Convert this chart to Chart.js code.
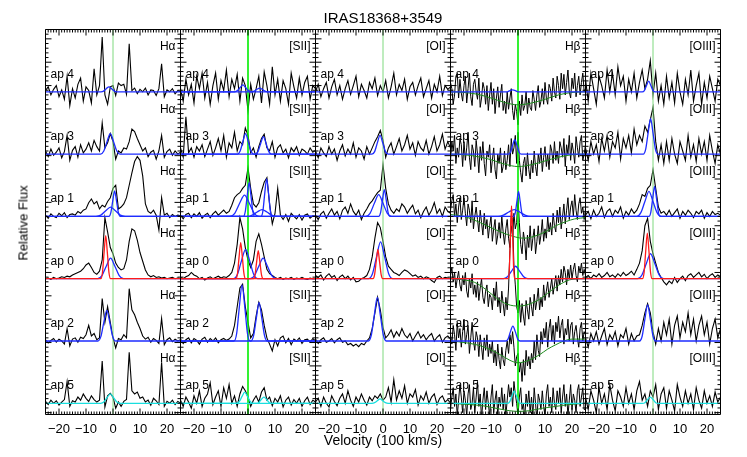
<!DOCTYPE html>
<html>
<head>
<meta charset="utf-8">
<script src="https://cdn.jsdelivr.net/npm/chart.js@4.4.1/dist/chart.umd.min.js"></script>
<style>
body { margin: 0; background: #fff; }
#wrap { position: relative; width: 747px; height: 457px; font-family: "Liberation Sans", Arial, sans-serif; color: #000; }
#c { position: absolute; left: 0; top: 0; }
.t { position: absolute; white-space: nowrap; }
</style>
</head>
<body>
<div id="wrap">
<canvas id="c" width="747" height="457"></canvas>
<div class="t" style="left:0;width:766px;top:9px;text-align:center;font-size:15px;">IRAS18368+3549</div>
<div class="t" style="left:23px;top:223px;font-size:13px;transform:translate(-50%,-50%) rotate(-90deg);">Relative Flux</div>
<div class="t" style="left:0;width:766px;top:432px;text-align:center;font-size:14px;">Velocity (100 km/s)</div>
</div>
<script>
// velocity grids, in units of 100 km/s
var velocity = [-25,-24,-23,-22,-21,-20,-19,-18,-17,-16,
  -15,-14,-13,-12,-11,-10,-9,-8,-7,-6,
  -5,-4,-3,-2,-1,0,1,2,3,4,
  5,6,7,8,9,10,11,12,13,14,
  15,16,17,18,19,20,21,22,23,24,
  25];
var velocityFine = [-25,-24.5,-24,-23.5,-23,-22.5,-22,-21.5,-21,-20.5,
  -20,-19.5,-19,-18.5,-18,-17.5,-17,-16.5,-16,-15.5,
  -15,-14.5,-14,-13.5,-13,-12.5,-12,-11.5,-11,-10.5,
  -10,-9.5,-9,-8.5,-8,-7.5,-7,-6.5,-6,-5.5,
  -5,-4.5,-4,-3.5,-3,-2.5,-2,-1.5,-1,-0.5,
  0,0.5,1,1.5,2,2.5,3,3.5,4,4.5,
  5,5.5,6,6.5,7,7.5,8,8.5,9,9.5,
  10,10.5,11,11.5,12,12.5,13,13.5,14,14.5,
  15,15.5,16,16.5,17,17.5,18,18.5,19,19.5,
  20,20.5,21,21.5,22,22.5,23,23.5,24,24.5,
  25];
var velocityTicks = [-20, -10, 0, 10, 20];
var lines = ['H\u03b1', '[SII]', '[OI]', 'H\u03b2', '[OIII]'];
var apertures = ['ap 4', 'ap 3', 'ap 1', 'ap 0', 'ap 2', 'ap 5'];

// ---- H alpha spectra ----
var haAp4 = [0.02,0.08,-0.05,0.04,0.1,-0.08,0.03,-0.12,0.25,-0.22,
  0.05,-0.1,0.12,0.22,-0.15,0.08,0.02,-0.18,0.37,-0.05,
  0.1,0.88,-0.05,-0.2,0.08,0.1,-0.06,0.14,0.1,0.12,
  -0.04,0.77,0.02,0.06,-0.03,0.04,0.0,0.06,-0.05,0.03,
  0.02,-0.06,0.05,0.45,-0.08,0.03,0.0,0.05,-0.03,0.02,
  0.0];
var haAp3 = [0.05,-0.04,0.08,-0.02,0.03,0.1,-0.06,0.04,0.3,-0.1,
  0.06,0.12,-0.05,0.15,0.02,0.08,0.18,0.05,0.22,0.12,
  0.05,0.5,0.1,0.18,0.33,0.2,-0.08,0.05,0.02,0.1,
  0.08,0.2,0.4,0.36,0.25,0.15,0.05,0.1,-0.04,0.03,
  0.06,-0.08,0.05,0.3,-0.05,0.04,0.08,-0.02,0.05,0.0,
  0.03];
var haAp1 = [0.02,-0.03,0.04,0.0,-0.02,0.05,0.01,0.06,-0.02,0.03,
  0.04,0.02,0.08,0.05,0.1,0.12,0.22,0.28,0.2,0.24,
  0.12,0.18,0.15,0.24,0.3,0.45,0.5,0.12,0.15,0.2,
  0.3,0.5,0.7,0.88,0.96,0.9,0.65,0.2,0.08,0.05,
  0.1,0.02,-0.22,0.3,0.02,0.05,-0.02,0.03,0.0,0.02,
  0.01];
var haAp0 = [0.0,0.01,-0.01,0.02,0.0,0.01,0.03,0.02,0.04,0.03,
  0.06,0.08,0.1,0.12,0.16,0.22,0.25,0.18,0.1,0.07,
  0.12,0.3,0.98,0.75,0.5,0.4,0.25,0.18,0.14,0.16,
  0.3,0.6,0.8,0.77,0.62,0.42,0.28,0.14,0.06,0.03,
  0.05,0.02,0.03,0.01,0.02,0.0,0.01,0.02,0.0,0.01,
  0.0];
var haAp2 = [0.02,-0.03,0.01,0.04,-0.02,0.03,0.0,-0.05,0.2,-0.08,
  0.03,0.05,-0.02,0.06,0.04,0.1,0.25,0.08,0.12,0.02,
  0.05,0.68,0.3,0.55,0.3,0.05,-0.11,0.04,0.02,0.1,
  0.05,0.84,0.5,0.42,0.3,0.2,0.08,0.03,0.06,-0.02,
  0.04,0.01,-0.04,0.36,-0.06,0.02,0.05,-0.01,0.03,0.0,
  0.02];
var haAp5 = [0.03,-0.02,0.05,0.0,0.04,-0.03,0.02,0.06,0.35,-0.05,
  0.04,0.02,0.1,0.05,0.15,0.08,0.03,0.12,0.06,0.02,
  0.05,0.68,-0.06,0.12,0.16,0.1,-0.08,0.02,-0.05,0.03,
  0.06,0.82,0.2,0.15,0.18,0.08,0.1,0.02,0.05,-0.03,
  0.08,0.04,-0.02,0.66,-0.05,0.03,0.0,0.05,-0.02,0.03,
  0.0];

// ---- [SII] spectra ----
var s2Ap4 = [0.05,-0.15,0.2,-0.05,0.12,-0.18,0.25,0.05,0.3,-0.1,
  0.15,-0.2,0.1,0.3,-0.12,0.18,0.02,0.35,-0.08,0.2,
  0.05,0.28,-0.15,0.22,0.1,-0.3,0.12,-0.12,0.05,0.25,
  -0.18,0.32,0.1,-0.2,0.4,-0.05,0.2,-0.15,0.18,0.05,
  -0.2,0.3,0.08,-0.1,0.22,-0.05,0.15,0.25,-0.12,0.1,
  0.05];
var s2Ap3 = [0.1,-0.05,0.6,0.02,0.1,-0.05,0.12,0.05,0.15,-0.04,
  0.08,0.2,-0.02,0.1,0.25,0.05,0.3,-0.05,0.18,0.1,
  0.35,0.05,0.2,0.15,0.42,0.3,0.02,0.1,-0.05,0.12,
  0.25,0.32,0.1,0.05,0.2,-0.05,0.1,0.15,0.02,0.08,
  -0.06,0.1,0.04,0.12,-0.02,0.08,0.05,0.0,0.1,0.03,
  0.06];
var s2Ap1 = [0.02,-0.04,0.03,0.05,-0.02,0.04,0.0,0.06,-0.03,0.02,
  0.05,-0.02,0.04,0.08,0.02,0.06,0.1,0.05,0.08,0.18,
  0.3,0.35,0.38,0.45,0.5,0.78,0.45,0.2,0.15,0.22,
  0.4,0.55,0.62,0.2,-0.12,0.05,0.45,0.02,-0.05,0.03,
  -0.08,0.05,0.0,-0.04,0.03,-0.06,0.02,0.04,-0.03,0.01,
  0.0];
var s2Ap0 = [0.02,0.0,0.03,0.05,0.1,0.06,0.04,0.0,0.02,-0.02,
  0.01,0.03,0.0,0.02,0.04,0.01,0.03,0.02,0.05,0.1,
  0.25,0.55,0.98,0.8,0.5,0.3,0.18,0.3,0.6,0.72,
  0.55,0.35,0.15,0.08,0.05,0.02,0.0,0.02,-0.01,0.01,
  0.0,0.02,-0.01,0.01,0.0,0.02,0.0,-0.01,0.01,0.0,
  0.0];
var s2Ap2 = [0.03,-0.04,0.02,0.05,-0.03,0.04,0.01,-0.05,0.03,0.06,
  -0.02,0.04,0.0,0.05,-0.03,0.02,0.04,0.01,0.03,0.08,
  0.25,0.55,0.85,0.91,0.55,0.3,0.05,0.12,0.4,0.62,
  0.5,0.25,0.05,-0.05,-0.16,0.02,-0.08,0.05,0.08,-0.03,
  0.04,-0.06,0.03,0.0,0.05,-0.04,0.02,0.03,-0.02,0.04,
  0.0];
var s2Ap5 = [0.05,-0.05,0.1,0.02,-0.08,0.12,0.0,0.2,-0.05,0.08,
  0.15,0.33,-0.02,0.1,0.2,-0.05,0.25,0.08,0.3,0.0,
  0.12,-0.05,0.15,0.27,0.2,0.1,-0.05,0.05,0.12,0.02,
  0.18,0.25,0.05,0.1,-0.04,0.08,0.02,0.12,-0.06,0.05,
  0.1,-0.03,0.06,0.0,0.08,-0.05,0.04,0.1,-0.02,0.05,
  0.02];

// ---- [OI] spectra ----
var o1Ap4 = [0.0,0.12,-0.08,0.05,0.15,-0.1,0.08,0.2,-0.05,0.1,
  -0.12,0.05,0.18,-0.04,0.1,0.25,-0.08,0.12,0.02,-0.1,
  0.15,0.05,0.22,-0.06,0.1,0.0,0.18,-0.1,0.08,0.3,
  -0.05,0.12,0.02,0.2,-0.12,0.08,0.15,-0.05,0.1,0.22,
  -0.08,0.05,0.18,-0.1,0.12,0.0,0.25,-0.06,0.1,0.04,
  0.08];
var o1Ap3 = [0.05,-0.06,0.1,0.02,-0.04,0.12,0.0,0.08,-0.1,0.05,
  0.15,-0.03,0.08,0.0,0.18,-0.05,0.1,0.05,-0.08,0.12,
  0.0,0.1,0.2,0.28,0.38,0.22,-0.05,0.1,0.18,0.0,
  0.12,0.25,0.05,0.15,0.3,0.08,0.18,-0.02,0.2,0.1,
  0.05,0.22,0.0,0.12,0.28,0.05,0.15,0.32,0.08,0.2,
  0.1];
var o1Ap1 = [0.02,-0.05,0.04,0.08,-0.03,0.05,0.12,0.02,0.08,-0.04,
  0.1,0.15,0.05,0.2,0.08,0.02,0.1,-0.05,0.05,0.12,
  0.2,0.25,0.32,0.38,0.42,0.83,0.45,0.2,0.1,0.05,
  0.12,0.08,0.2,0.15,0.05,0.12,0.18,0.04,0.1,-0.02,
  0.08,0.15,0.02,0.1,0.22,0.05,0.12,0.0,0.15,0.08,
  0.05];
var o1Ap0 = [0.05,0.02,0.06,-0.02,0.04,0.08,0.02,0.05,-0.03,0.03,
  0.06,0.0,0.04,-0.02,0.02,-0.05,-0.04,0.0,0.02,0.05,
  0.15,0.35,0.65,0.9,0.82,0.6,0.35,0.2,0.15,0.1,
  0.08,0.05,0.1,0.14,0.12,0.08,0.04,0.06,0.02,0.04,
  0.0,0.03,0.01,-0.03,-0.06,0.02,0.04,0.0,0.02,0.01,
  0.0];
var o1Ap2 = [0.03,-0.04,0.02,0.05,-0.02,0.0,0.04,-0.03,0.02,0.05,
  -0.02,0.0,-0.06,-0.04,-0.08,-0.05,-0.09,-0.04,-0.06,0.0,
  0.05,0.2,0.45,0.7,0.5,0.22,0.05,0.1,0.18,0.06,
  0.15,0.08,0.2,0.1,0.05,0.12,0.0,0.08,0.15,0.05,
  0.1,0.02,0.08,0.12,0.0,0.06,0.1,-0.02,0.05,0.08,
  0.03];
var o1Ap5 = [0.02,0.08,-0.05,0.1,0.0,-0.06,0.12,0.03,-0.04,0.08,
  0.15,0.0,0.2,0.05,-0.05,0.1,0.02,0.15,0.05,-0.03,
  0.1,0.04,0.12,0.08,0.15,0.05,0.1,0.25,0.02,0.38,
  0.05,0.2,0.08,0.28,0.0,0.15,0.1,0.22,-0.03,0.12,
  0.05,0.18,0.0,0.1,0.15,-0.02,0.08,0.12,0.02,0.06,
  0.0];

// ---- H beta spectra (finer sampling) ----
var hbAp4 = [0.15,0.05,-0.2,-0.05,0.25,0.3,-0.1,0.2,-0.02,-0.15,
  0.1,0.25,-0.18,0.05,0.3,-0.08,-0.22,0.12,0.2,0.0,
  -0.12,0.22,-0.25,-0.1,0.15,0.05,-0.2,0.1,-0.3,-0.05,
  0.15,-0.2,0.05,-0.35,-0.1,0.08,-0.25,-0.05,0.12,-0.3,
  -0.15,-0.35,0.0,-0.28,-0.1,0.05,-0.3,-0.45,-0.2,-0.32,
  -0.53,-0.15,-0.38,-0.05,-0.3,-0.22,0.0,-0.35,-0.1,-0.25,
  -0.3,0.02,-0.12,-0.3,-0.05,0.1,-0.25,-0.15,0.05,-0.2,
  0.15,-0.1,-0.2,0.12,0.05,-0.15,0.22,0.0,-0.1,0.25,
  0.1,-0.12,0.3,0.05,0.28,-0.05,0.15,0.35,0.0,-0.1,
  0.22,0.05,0.3,-0.08,0.1,0.25,-0.05,0.15,0.3,0.0,
  0.05];
var hbAp3 = [-0.1,0.2,0.05,0.3,-0.15,0.1,-0.05,0.25,0.15,-0.2,
  0.2,-0.1,0.1,0.35,-0.05,-0.25,0.15,0.05,-0.2,0.22,
  0.0,-0.3,0.12,-0.1,0.2,-0.15,-0.35,0.05,-0.05,0.15,
  -0.3,-0.1,0.1,-0.25,-0.4,0.0,-0.15,0.1,-0.3,-0.2,
  0.05,-0.25,-0.1,0.15,-0.2,0.25,0.0,0.1,0.3,-0.15,
  0.35,-0.1,-0.3,-0.45,-0.15,-0.05,-0.35,0.02,-0.25,-0.4,
  -0.1,-0.3,0.05,-0.2,-0.35,0.0,-0.15,0.1,-0.28,-0.05,
  0.12,-0.2,0.0,-0.25,0.15,0.05,-0.15,0.2,-0.1,0.05,
  -0.15,0.2,0.1,-0.05,0.25,-0.2,0.15,0.0,0.3,-0.1,
  0.18,0.05,-0.15,0.28,0.1,-0.05,0.2,0.3,-0.1,0.0,
  0.15];
var hbAp1 = [0.1,0.25,0.35,0.0,0.2,-0.1,0.15,0.3,-0.05,0.1,
  0.3,0.05,-0.15,0.2,0.1,-0.1,0.25,-0.2,0.0,0.15,
  -0.05,-0.25,0.1,-0.1,-0.3,0.05,-0.2,-0.05,-0.35,-0.15,
  0.0,-0.4,-0.2,-0.05,-0.45,-0.3,-0.1,-0.35,0.0,-0.25,
  -0.45,-0.2,-0.05,-0.35,-0.5,-0.15,-0.3,0.05,-0.2,-0.1,
  0.3,-0.1,-0.45,-0.6,-0.25,-0.4,-0.7,-0.3,-0.5,-0.15,
  -0.55,-0.35,-0.2,-0.6,-0.4,-0.15,-0.45,-0.3,-0.05,-0.4,
  -0.2,-0.35,0.0,-0.25,-0.1,-0.3,0.05,-0.15,-0.25,0.1,
  -0.1,0.15,-0.2,0.0,0.2,-0.12,0.1,0.3,-0.05,0.15,
  0.25,0.0,0.35,0.1,-0.05,0.2,0.3,0.05,0.15,-0.05,
  0.12];
var hbAp0 = [0.05,0.18,-0.05,0.1,-0.15,0.0,0.12,-0.1,-0.2,0.05,
  -0.1,0.1,-0.2,-0.3,0.0,-0.15,0.08,-0.25,-0.1,-0.3,
  -0.05,-0.35,-0.15,0.0,-0.3,-0.4,-0.2,-0.1,-0.45,-0.25,
  -0.3,-0.5,-0.15,-0.35,-0.05,-0.45,-0.3,-0.55,-0.2,-0.4,
  -0.6,-0.3,-0.5,-0.15,0.45,1.0,0.95,0.2,-0.1,-0.45,
  -0.55,-0.35,-0.7,-0.4,-0.6,-0.75,-0.35,-0.5,-0.65,-0.3,
  -0.45,-0.6,-0.25,-0.5,-0.35,-0.15,-0.5,-0.3,-0.45,-0.1,
  -0.35,-0.2,-0.05,-0.3,-0.15,0.0,-0.25,-0.1,0.05,-0.2,
  0.05,-0.1,0.15,-0.05,0.2,0.1,-0.1,0.15,0.0,0.22,
  0.0,0.15,0.25,0.05,-0.05,0.2,0.1,0.25,0.05,0.15,
  0.05];
var hbAp2 = [0.1,-0.05,0.25,0.1,-0.15,0.3,0.05,0.2,-0.1,0.15,
  0.35,-0.05,0.1,0.25,-0.2,0.05,0.3,0.0,-0.15,0.15,
  0.05,-0.25,0.1,-0.1,-0.3,0.05,-0.15,0.1,-0.25,-0.05,
  -0.2,0.0,-0.35,-0.15,-0.4,-0.05,-0.3,-0.45,-0.1,-0.3,
  -0.4,-0.15,0.0,-0.2,0.1,-0.05,0.15,-0.1,-0.4,-0.25,
  -0.2,-0.5,-0.35,-0.65,-0.3,-0.55,-0.15,-0.4,-0.25,-0.45,
  -0.2,-0.35,0.0,-0.3,0.1,-0.15,-0.25,0.15,-0.05,0.2,
  0.05,0.3,-0.1,0.2,0.35,0.0,0.25,-0.05,0.3,0.15,
  0.4,0.05,0.25,0.35,-0.05,0.2,0.1,0.35,0.0,0.25,
  0.3,-0.05,0.15,0.25,0.05,-0.1,0.2,0.3,0.0,0.15,
  0.1];
var hbAp5 = [-0.1,0.1,0.25,-0.05,0.15,-0.2,0.05,0.3,0.1,-0.15,
  0.2,0.05,-0.2,0.15,0.3,-0.1,0.0,0.25,-0.15,0.1,
  0.35,-0.05,0.15,-0.25,0.05,0.25,-0.1,0.2,0.0,-0.2,
  0.1,0.3,-0.15,0.05,0.2,-0.2,0.1,-0.05,0.25,-0.1,
  0.15,-0.2,0.05,0.3,0.1,0.25,-0.05,0.35,0.15,0.0,
  -0.2,0.1,0.25,-0.1,0.0,-0.25,0.15,-0.05,0.2,-0.15,
  0.1,-0.2,0.25,0.0,-0.3,0.15,0.05,-0.1,0.2,-0.05,
  -0.2,0.15,0.3,-0.05,0.1,-0.15,0.25,0.0,-0.1,0.2,
  0.0,0.25,-0.15,0.1,0.3,-0.05,0.15,-0.2,0.05,0.3,
  -0.1,0.15,0.05,-0.15,0.2,0.3,-0.05,0.1,0.25,-0.1,
  -0.1];

// ---- [OIII] spectra ----
var o3Ap4 = [0.2,-0.15,0.3,0.05,-0.2,0.25,0.1,-0.1,0.35,0.0,
  0.3,-0.05,0.4,0.1,0.25,-0.15,0.2,0.0,0.3,-0.1,
  0.15,0.35,0.05,0.2,0.5,-0.05,0.3,-0.15,0.1,-0.2,
  0.25,-0.1,0.15,-0.18,0.3,0.0,-0.2,0.2,-0.05,0.35,
  -0.15,0.1,0.3,-0.2,0.15,-0.1,0.25,0.05,-0.15,0.2,
  0.1];
var o3Ap3 = [0.1,-0.1,0.2,0.0,0.15,-0.12,0.25,0.05,0.3,-0.05,
  0.2,0.1,0.35,-0.08,0.25,0.1,0.3,0.02,0.4,0.15,
  0.3,0.2,0.45,0.35,0.55,0.75,0.2,-0.1,0.15,-0.15,
  0.2,-0.1,0.25,0.0,-0.15,0.2,0.05,-0.1,0.3,-0.05,
  0.15,-0.12,0.25,0.0,0.2,-0.1,0.3,0.05,-0.15,0.15,
  0.0];
var o3Ap1 = [0.02,0.08,-0.04,0.1,0.0,0.05,0.15,-0.02,0.08,0.12,
  0.0,0.1,0.05,0.15,-0.03,0.08,0.02,0.12,0.05,0.1,
  0.2,0.35,0.32,0.45,0.5,0.75,0.45,0.15,0.05,0.08,
  0.02,0.1,0.0,0.06,0.12,-0.03,0.08,0.02,0.1,0.05,
  -0.02,0.08,0.04,0.1,-0.03,0.06,0.0,0.08,0.03,0.05,
  0.02];
var o3Ap0 = [0.02,0.05,0.0,0.06,0.03,0.08,0.02,0.05,0.1,0.03,
  0.06,0.02,0.08,0.04,0.1,0.05,0.08,0.12,0.06,0.15,
  0.25,0.45,0.85,0.97,0.6,0.4,0.25,0.1,0.02,-0.05,
  -0.1,-0.04,-0.08,0.02,-0.06,0.0,0.04,-0.03,0.05,0.08,
  0.02,0.06,0.1,0.03,0.07,0.0,0.05,0.08,0.02,0.06,
  0.03];
var o3Ap2 = [0.05,-0.1,0.12,0.0,0.15,-0.05,0.08,0.2,-0.06,0.1,
  0.02,0.15,-0.08,0.1,0.05,0.2,-0.05,0.12,0.0,0.08,
  0.1,0.25,0.45,0.6,0.45,0.15,-0.05,0.2,0.0,0.3,
  0.1,0.35,-0.05,0.25,0.4,0.05,0.3,0.15,0.45,0.1,
  0.35,0.0,0.25,0.4,0.1,0.3,-0.05,0.2,0.35,0.05,
  0.2];
var o3Ap5 = [0.1,-0.1,0.2,0.05,-0.15,0.25,0.0,0.15,-0.1,0.3,
  0.05,-0.12,0.2,0.1,-0.05,0.25,0.0,0.15,-0.1,0.2,
  0.35,0.05,0.15,-0.05,0.2,0.1,0.3,-0.1,0.15,0.25,
  -0.08,0.2,0.05,-0.12,0.3,0.1,-0.05,0.2,0.0,0.15,
  -0.1,0.25,0.05,-0.08,0.2,0.0,0.12,-0.05,0.18,0.02,
  0.1];

// ---- fitted components, [velocity, flux] ----
var haFit4 = [[-25,0],[-4.5,0],[-3.5,0.01],[-2.5,0.05],[-1.5,0.08],[-0.5,0.05],[0.5,0.01],[1.5,0],[25,0]];
var haFit3 = [[-25,0],[-4.6,0],[-3.4,0.05],[-2.2,0.2],[-1,0.33],[0.2,0.2],[1.4,0.05],[2.6,0],[25,0]];
var haFit1Broad = [[-25,0],[-6.3,0],[-4.5,0.02],[-2.7,0.09],[-0.9,0.15],[0.9,0.09],[2.7,0.02],[4.5,0],[25,0]];
var haFit1Narrow = [[-25,0],[-1.5,0],[-0.8,0.06],[-0.1,0.25],[0.6,0.41],[1.3,0.25],[2,0.06],[2.7,0],[25,0]];
var haFit0Narrow = [[-25,0],[-4.5,0],[-3.9,0.1],[-3.3,0.42],[-2.7,0.69],[-2.1,0.42],[-1.5,0.1],[-0.9,0],[25,0]];
var haFit0Broad = [[-25,0],[-5.7,0],[-4.1,0.05],[-2.5,0.2],[-0.9,0.33],[0.7,0.2],[2.3,0.05],[3.9,0],[25,0]];
var haFit2 = [[-25,0],[-5.6,0],[-4.5,0.07],[-3.4,0.3],[-2.3,0.49],[-1.2,0.3],[-0.1,0.07],[1,0],[25,0]];
var haFit5 = [[-25,0],[-4.6,0],[-3.4,0.02],[-2.2,0.09],[-1,0.15],[0.2,0.09],[1.4,0.02],[2.6,0],[25,0]];

var s2Fit4a = [[-25,0],[-4.9,0],[-3.9,0.02],[-2.9,0.07],[-1.9,0.11],[-0.9,0.07],[0.1,0.02],[1.1,0],[25,0]];
var s2Fit4b = [[-25,0],[1.3,0],[2.3,0.01],[3.3,0.04],[4.3,0.06],[5.3,0.04],[6.3,0.01],[7.3,0],[25,0]];
var s2Fit3a = [[-25,0],[-3.9,0],[-2.9,0.05],[-1.9,0.2],[-0.9,0.33],[0.1,0.2],[1.1,0.05],[2.1,0],[25,0]];
var s2Fit3b = [[-25,0],[2.7,0],[3.7,0.04],[4.7,0.17],[5.7,0.28],[6.7,0.17],[7.7,0.04],[8.7,0],[25,0]];
var s2Fit1Broad1 = [[-25,0],[-6.7,0],[-4.9,0.05],[-3.1,0.21],[-1.3,0.34],[0.5,0.21],[2.3,0.05],[4.1,0],[25,0]];
var s2Fit1Narrow1 = [[-25,0],[-1.7,0],[-1,0.08],[-0.3,0.33],[0.4,0.54],[1.1,0.33],[1.8,0.08],[2.5,0],[25,0]];
var s2Fit1Broad2 = [[-25,0],[-0.2,0],[1.6,0.02],[3.4,0.07],[5.2,0.11],[7,0.07],[8.8,0.02],[10.6,0],[25,0]];
var s2Fit1Narrow2 = [[-25,0],[4.8,0],[5.5,0.08],[6.2,0.37],[6.9,0.6],[7.6,0.37],[8.3,0.08],[9,0],[25,0]];
var s2Fit0Narrow1 = [[-25,0],[-4.5,0],[-3.9,0.08],[-3.3,0.35],[-2.7,0.58],[-2.1,0.35],[-1.5,0.08],[-0.9,0],[25,0]];
var s2Fit0Broad1 = [[-25,0],[-5.4,0],[-3.9,0.07],[-2.4,0.29],[-0.9,0.47],[0.6,0.29],[2.1,0.07],[3.6,0],[25,0]];
var s2Fit0Narrow2 = [[-25,0],[2,0],[2.6,0.06],[3.2,0.27],[3.8,0.45],[4.4,0.27],[5,0.06],[5.6,0],[25,0]];
var s2Fit0Broad2 = [[-25,0],[0.8,0],[2.4,0.05],[4,0.2],[5.6,0.33],[7.2,0.2],[8.8,0.05],[10.4,0],[25,0]];
var s2Fit2a = [[-25,0],[-5.2,0],[-4.2,0.12],[-3.2,0.55],[-2.2,0.9],[-1.2,0.55],[-0.2,0.12],[0.8,0],[25,0]];
var s2Fit2b = [[-25,0],[1.1,0],[2.1,0.09],[3.1,0.37],[4.1,0.62],[5.1,0.37],[6.1,0.09],[7.1,0],[25,0]];
var s2Fit5a = [[-25,0],[-4.2,0],[-3.2,0.03],[-2.2,0.11],[-1.2,0.18],[-0.2,0.11],[0.8,0.03],[1.8,0],[25,0]];
var s2Fit5b = [[-25,0],[2.9,0],[3.9,0.01],[4.9,0.06],[5.9,0.1],[6.9,0.06],[7.9,0.01],[8.9,0],[25,0]];

var o1Fit4 = [[-25,0],[25,0]];
var o1Fit3 = [[-25,0],[-4.1,0],[-3.1,0.04],[-2.1,0.18],[-1.1,0.3],[-0.1,0.18],[0.9,0.04],[1.9,0],[25,0]];
var o1Fit1Broad = [[-25,0],[-6.4,0],[-4.8,0.05],[-3.2,0.21],[-1.6,0.35],[0,0.21],[1.6,0.05],[3.2,0],[25,0]];
var o1Fit1Narrow = [[-25,0],[-1.6,0],[-0.9,0.06],[-0.2,0.26],[0.5,0.43],[1.2,0.26],[1.9,0.06],[2.6,0],[25,0]];
var o1Fit0Narrow = [[-25,0],[-3.7,0],[-3.1,0.07],[-2.5,0.28],[-1.9,0.47],[-1.3,0.28],[-0.7,0.07],[-0.1,0],[25,0]];
var o1Fit0Broad = [[-25,0],[-5.4,0],[-3.9,0.08],[-2.4,0.35],[-0.9,0.59],[0.6,0.35],[2.1,0.08],[3.6,0],[25,0]];
var o1Fit2 = [[-25,0],[-5.4,0],[-4.3,0.1],[-3.2,0.42],[-2.1,0.7],[-1,0.42],[0.1,0.1],[1.2,0],[25,0]];
var o1Fit5 = [[-25,0],[-4.1,0],[-3.1,0.01],[-2.1,0.04],[-1.1,0.07],[-0.1,0.04],[0.9,0.01],[1.9,0],[25,0]];

var hbFit4 = [[-25,0],[-5,0],[-4,0],[-3,0.02],[-2,0.03],[-1,0.02],[0,0],[1,0],[25,0]];
var hbAbs4 = [[-25,0],[-20,-0.01],[-15,-0.04],[-10,-0.1],[-5,-0.17],[0,-0.21],[5,-0.18],[10,-0.12],[15,-0.05],[20,-0.01],[25,0]];
var hbFit3 = [[-25,0],[-3.6,0],[-2.8,0.03],[-2,0.14],[-1.2,0.23],[-0.4,0.14],[0.4,0.03],[1.2,0],[25,0]];
var hbAbs3 = [[-25,0],[-20,-0.01],[-15,-0.04],[-10,-0.09],[-5,-0.16],[0,-0.2],[5,-0.17],[10,-0.11],[15,-0.05],[20,-0.01],[25,0]];
var hbFit1Narrow = [[-25,0],[-1.6,0],[-1,0.06],[-0.4,0.24],[0.2,0.4],[0.8,0.24],[1.4,0.06],[2,0],[25,0]];
var hbFit1Broad = [[-25,0],[-7.4,0],[-5.4,0.02],[-3.4,0.07],[-1.4,0.11],[0.6,0.07],[2.6,0.02],[4.6,0],[25,0]];
var hbAbs1 = [[-25,0.03],[-20,0],[-14,-0.1],[-9,-0.2],[-4,-0.29],[2,-0.35],[6,-0.32],[10.5,-0.24],[14,-0.15],[18,-0.08],[21,-0.04],[25,-0.02]];
var hbFit0Narrow = [[-25,0],[-3.6,0],[-3.2,0.16],[-2.8,0.71],[-2.4,1.17],[-2,0.71],[-1.6,0.16],[-1.2,0],[25,0]];
var hbFit0Broad = [[-25,0],[-5.4,0],[-3.9,0.03],[-2.4,0.12],[-0.9,0.2],[0.6,0.12],[2.1,0.03],[3.6,0],[25,0]];
var hbAbs0 = [[-25,0],[-20,-0.02],[-16,-0.06],[-12,-0.17],[-8,-0.31],[-4,-0.41],[0.5,-0.44],[4,-0.41],[8,-0.33],[12,-0.2],[16,-0.08],[20,-0.01],[25,0]];
var hbFit2 = [[-25,0],[-4.6,0],[-3.7,0.03],[-2.8,0.15],[-1.9,0.24],[-1,0.15],[-0.1,0.03],[0.8,0],[25,0]];
var hbAbs2 = [[-25,0],[-19,-0.03],[-13,-0.09],[-7,-0.21],[-3,-0.31],[0,-0.35],[4,-0.31],[8,-0.22],[11,-0.13],[14,-0.06],[17,0],[20,0.03],[25,0.03]];
var hbFit5 = [[-25,0],[-3.8,0],[-3,0.03],[-2.2,0.12],[-1.4,0.2],[-0.6,0.12],[0.2,0.03],[1,0],[25,0]];
var hbAbs5 = [[-25,0],[-18,-0.02],[-13,-0.04],[-7,-0.09],[-3,-0.12],[0,-0.13],[4,-0.12],[9,-0.08],[14,-0.05],[19,-0.02],[25,0]];

var o3Fit4 = [[-25,0],[-4,0],[-3.2,0.02],[-2.4,0.1],[-1.6,0.17],[-0.8,0.1],[0,0.02],[0.8,0],[25,0]];
var o3Fit3 = [[-25,0],[-3.6,0],[-2.7,0.08],[-1.8,0.34],[-0.9,0.57],[0,0.34],[0.9,0.08],[1.8,0],[25,0]];
var o3Fit1Broad = [[-25,0],[-6,0],[-4.5,0.06],[-3,0.24],[-1.5,0.4],[0,0.24],[1.5,0.06],[3,0],[25,0]];
var o3Fit1Narrow = [[-25,0],[-1.5,0],[-0.8,0.07],[-0.1,0.29],[0.6,0.48],[1.3,0.29],[2,0.07],[2.7,0],[25,0]];
var o3Fit0Narrow = [[-25,0],[-3.9,0],[-3.3,0.1],[-2.7,0.44],[-2.1,0.73],[-1.5,0.44],[-0.9,0.1],[-0.3,0],[25,0]];
var o3Fit0Broad = [[-25,0],[-5.7,0],[-4.1,0.06],[-2.5,0.24],[-0.9,0.4],[0.7,0.24],[2.3,0.06],[3.9,0],[25,0]];
var o3Fit2 = [[-25,0],[-5,0],[-4,0.08],[-3,0.35],[-2,0.58],[-1,0.35],[0,0.08],[1,0],[25,0]];
var o3Fit5 = [[-25,0],[-4,0],[-3,0.01],[-2,0.06],[-1,0.1],[0,0.06],[1,0.01],[2,0],[25,0]];

// panels: spectra per line, rows in aperture order
var spectra = [
  [haAp4, haAp3, haAp1, haAp0, haAp2, haAp5],
  [s2Ap4, s2Ap3, s2Ap1, s2Ap0, s2Ap2, s2Ap5],
  [o1Ap4, o1Ap3, o1Ap1, o1Ap0, o1Ap2, o1Ap5],
  [hbAp4, hbAp3, hbAp1, hbAp0, hbAp2, hbAp5],
  [o3Ap4, o3Ap3, o3Ap1, o3Ap0, o3Ap2, o3Ap5]
];
// [column, row, component kind, points]
var fits = [
  [0,0,'comp',haFit4],[0,1,'comp',haFit3],[0,2,'comp',haFit1Broad],[0,2,'comp',haFit1Narrow],
  [0,3,'comp',haFit0Broad],[0,3,'narrow',haFit0Narrow],[0,4,'comp',haFit2],[0,5,'comp',haFit5],
  [1,0,'comp',s2Fit4a],[1,0,'comp',s2Fit4b],[1,1,'comp',s2Fit3a],[1,1,'comp',s2Fit3b],
  [1,2,'comp',s2Fit1Broad1],[1,2,'comp',s2Fit1Narrow1],[1,2,'comp',s2Fit1Broad2],[1,2,'comp',s2Fit1Narrow2],
  [1,3,'comp',s2Fit0Broad1],[1,3,'comp',s2Fit0Broad2],[1,3,'narrow',s2Fit0Narrow1],[1,3,'narrow',s2Fit0Narrow2],
  [1,4,'comp',s2Fit2a],[1,4,'comp',s2Fit2b],[1,5,'comp',s2Fit5a],[1,5,'comp',s2Fit5b],
  [2,0,'comp',o1Fit4],[2,1,'comp',o1Fit3],[2,2,'comp',o1Fit1Broad],[2,2,'comp',o1Fit1Narrow],
  [2,3,'comp',o1Fit0Broad],[2,3,'narrow',o1Fit0Narrow],[2,4,'comp',o1Fit2],[2,5,'comp',o1Fit5],
  [3,0,'abs',hbAbs4],[3,0,'comp',hbFit4],[3,1,'abs',hbAbs3],[3,1,'comp',hbFit3],
  [3,2,'abs',hbAbs1],[3,2,'comp',hbFit1Broad],[3,2,'comp',hbFit1Narrow],
  [3,3,'abs',hbAbs0],[3,3,'comp',hbFit0Broad],[3,3,'narrow',hbFit0Narrow],
  [3,4,'abs',hbAbs2],[3,4,'comp',hbFit2],[3,5,'abs',hbAbs5],[3,5,'comp',hbFit5],
  [4,0,'comp',o3Fit4],[4,1,'comp',o3Fit3],[4,2,'comp',o3Fit1Broad],[4,2,'comp',o3Fit1Narrow],
  [4,3,'comp',o3Fit0Broad],[4,3,'narrow',o3Fit0Narrow],[4,4,'comp',o3Fit2],[4,5,'comp',o3Fit5]
];

var rowOffset = [5, 4, 3, 2, 1, 0];   // vertical shift of each aperture
var colWidth = 50;                     // each panel spans -25..25
var yMin = -0.18, yMax = 6.0;
var font = '"Liberation Sans", Arial, sans-serif';

var colX = function(c, v) { return v + 25 + colWidth * c; };

var compColor = function(row, kind) {
  if (kind == 'abs') return '#1d8a1d';
  if (row == 5) return '#19dede';
  if (kind == 'narrow') return '#ff1a1a';
  return '#1e2cff';
};

var datasets = [];
for (var c = 0; c < 5; c++) {
  for (var r = 0; r < 6; r++) {
    var arr = spectra[c][r];
    var grid = arr.length == velocityFine.length ? velocityFine : velocity;
    datasets.push({
      data: grid.map(function(v, i) { return { x: colX(c, v), y: arr[i] + rowOffset[r] }; }),
      borderColor: '#000', borderWidth: grid === velocityFine ? 1 : 1.1,
      pointRadius: 0, tension: 0, order: 4
    });
  }
  // zero velocity marker
  datasets.push({
    data: [{ x: colX(c, 0), y: yMin }, { x: colX(c, 0), y: yMax }],
    borderColor: (c == 1 || c == 3) ? '#00ee00' : '#7fd97f',
    borderWidth: (c == 1 || c == 3) ? 1.6 : 1, pointRadius: 0, order: 3
  });
}
fits.forEach(function(f) {
  var c = f[0], r = f[1], kind = f[2];
  datasets.push({
    data: f[3].map(function(p) { return { x: colX(c, p[0]), y: p[1] + rowOffset[r] }; }),
    borderColor: compColor(r, kind),
    borderWidth: kind == 'abs' ? 1 : 1.3,
    pointRadius: 0,
    cubicInterpolationMode: 'monotone',
    order: kind == 'narrow' ? 0 : (kind == 'abs' ? 2 : 1)
  });
});

var tickValues = [];
for (var c = 0; c < 5; c++) velocityTicks.forEach(function(v) { tickValues.push(colX(c, v)); });

// frame, inward ticks and panel labels
var panelPlugin = {
  id: 'panels',
  afterDatasetsDraw: function(chart) {
    var ctx = chart.ctx, a = chart.chartArea, xs = chart.scales.x, ys = chart.scales.y;
    ctx.save();
    ctx.strokeStyle = '#000';
    ctx.lineWidth = 1;
    ctx.beginPath();
    ctx.rect(a.left, a.top, a.right - a.left, a.bottom - a.top);
    for (var c = 1; c < 5; c++) {
      var px = xs.getPixelForValue(colWidth * c);
      ctx.moveTo(px, a.top); ctx.lineTo(px, a.bottom);
    }
    // velocity ticks top and bottom
    for (var v = 1; v < colWidth * 5; v++) {
      var rel = v % colWidth;
      if (rel == 0) continue;
      var len = ((rel - 25) % 10 == 0) ? 6 : 3;
      var px = xs.getPixelForValue(v);
      ctx.moveTo(px, a.bottom); ctx.lineTo(px, a.bottom - len);
      ctx.moveTo(px, a.top); ctx.lineTo(px, a.top + len);
    }
    // flux ticks on each panel edge
    for (var c = 0; c <= 5; c++) {
      var px = xs.getPixelForValue(colWidth * c);
      for (var k = 0; ; k++) {
        var yv = yMin + 0.03 + k * 0.075;
        if (yv > yMax) break;
        var py = ys.getPixelForValue(yv);
        var len = (k % 5 == 0) ? 6 : 3;
        if (c < 5) { ctx.moveTo(px, py); ctx.lineTo(px + len, py); }
        if (c > 0) { ctx.moveTo(px, py); ctx.lineTo(px - len, py); }
      }
    }
    ctx.stroke();

    ctx.fillStyle = '#000';
    ctx.font = '12px ' + font;
    ctx.textBaseline = 'middle';
    for (var c = 0; c < 5; c++) {
      var left = xs.getPixelForValue(colWidth * c);
      var right = xs.getPixelForValue(colWidth * (c + 1));
      for (var r = 0; r < 6; r++) {
        ctx.textAlign = 'left';
        ctx.fillText(apertures[r], left + 5, ys.getPixelForValue(rowOffset[r] + 0.28));
        ctx.textAlign = 'right';
        ctx.fillText(lines[c], right - 5, ys.getPixelForValue(rowOffset[r] + 0.72));
      }
    }
    ctx.restore();
  }
};

var chart = new Chart(document.getElementById('c').getContext('2d'), {
  type: 'line',
  data: { datasets: datasets },
  options: {
    responsive: false,
    animation: false,
    events: [],
    layout: { padding: { left: 45.5, right: 26.5, top: 29.5, bottom: 0 } },
    plugins: { legend: { display: false }, tooltip: { enabled: false } },
    elements: { line: { fill: false } },
    datasets: { line: { clip: 0 } },
    scales: {
      x: {
        type: 'linear', min: 0, max: colWidth * 5,
        grid: { display: false, drawTicks: false }, border: { display: false },
        afterBuildTicks: function(s) { s.ticks = tickValues.map(function(v) { return { value: v }; }); },
        afterFit: function(s) { s.height = 42.5; },
        ticks: {
          autoSkip: false, maxRotation: 0, padding: 7, color: '#000',
          font: { size: 13, family: font },
          callback: function(value) {
            var v = Math.round(value - colWidth * Math.floor(value / colWidth) - 25);
            return v < 0 ? '\u2212' + Math.abs(v) : String(v);
          }
        }
      },
      y: { display: false, min: yMin, max: yMax }
    }
  },
  plugins: [panelPlugin]
});
</script>
</body>
</html>
